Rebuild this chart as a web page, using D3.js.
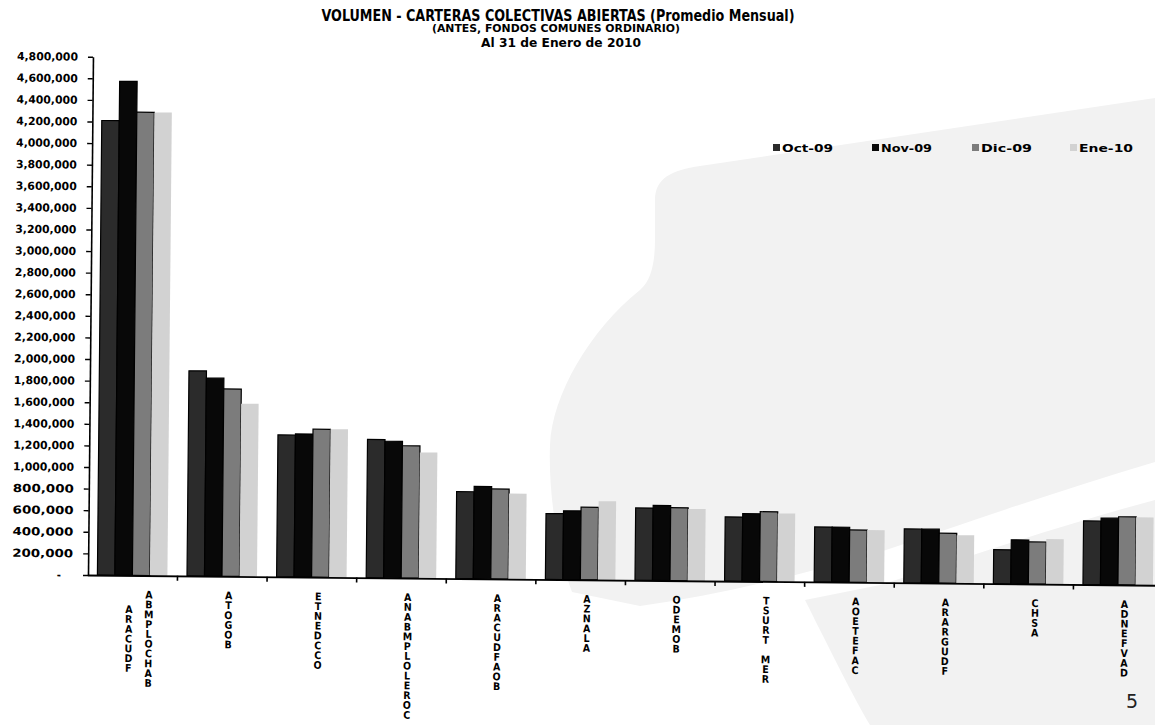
<!DOCTYPE html>
<html><head><meta charset="utf-8">
<script src="https://cdn.jsdelivr.net/npm/d3@7/dist/d3.min.js"></script>
<style>body{margin:0;background:#fff}svg{display:block}</style>
</head><body>
<svg id="c" width="1155" height="725"></svg>
<script>
// ---------- data ----------
const categories = ["ARACUDF\nABMPLOCHAB","ATOGOB","ETNEDCCO","ANABMPLOLEROC","ARACUDFAOB","AZNALA","ODEMOB","TSURT MER","AOETEFAC","ARARGUDF","CHSA","ADNEFVAD"];
const series = ["Oct-09","Nov-09","Dic-09","Ene-10"];
const oct09 = [4210000,1900000,1315000,1280000,805000,610000,670000,595000,510000,500000,315000,590000];
const nov09 = [4575000,1835000,1325000,1265000,855000,637000,695000,627000,510000,500000,408000,618000];
const dic09 = [4290000,1735000,1370000,1225000,833000,672000,675000,646000,485000,463000,391000,631000];
const ene10 = [4290000,1600000,1372000,1165000,792000,729000,665000,632000,486000,446000,418000,627000];
const yTickValues = [0,200000,400000,600000,800000,1000000,1200000,1400000,1600000,1800000,2000000,2200000,2400000,2600000,2800000,3000000,3200000,3400000,3600000,3800000,4000000,4200000,4400000,4600000,4800000];
const titleLines = ["VOLUMEN - CARTERAS COLECTIVAS ABIERTAS (Promedio Mensual)","(ANTES, FONDOS COMUNES ORDINARIO)","Al 31 de Enero de 2010"];
const pageNumber = "5";

const seriesValues = [oct09, nov09, dic09, ene10];
const fills = ["#2b2b2b","#080808","#7c7c7c","#d2d2d2"];
const strokes = ["#000","#000","#000","none"];

const svg = d3.select("#c");
const bold = "'DejaVu Sans Condensed','DejaVu Sans',sans-serif";
const narrow = "'Liberation Sans Narrow','DejaVu Sans Condensed',sans-serif";

// ---------- watermark ----------
svg.append("path")
  .attr("d","M655,200 C655,178 672,170 700,166 L1155,98 L1155,462 C1060,490 960,525 880,552 C800,575 720,595 640,606 L572,592 C560,560 548,500 550,445 C552,395 590,330 640,290 C652,280 655,260 655,240 Z")
  .attr("fill","#f2f2f2");
svg.append("path")
  .attr("d","M1155,500 C1060,525 960,560 880,585 L805,600 C830,650 855,700 870,725 L1155,725 Z")
  .attr("fill","#f2f2f2");

// ---------- titles ----------
const tl = svg.append("g").attr("font-family", narrow).attr("font-weight","bold").attr("fill","#000").attr("text-anchor","middle");
tl.append("text").attr("x",558).attr("y",21).attr("font-size",16).attr("textLength",473).attr("lengthAdjust","spacingAndGlyphs").text(titleLines[0]);
tl.append("text").attr("x",556).attr("y",32).attr("font-size",10).attr("textLength",248).attr("lengthAdjust","spacingAndGlyphs").text(titleLines[1]);
tl.append("text").attr("x",561).attr("y",47).attr("font-size",12.5).attr("textLength",160).attr("lengthAdjust","spacingAndGlyphs").text(titleLines[2]);

// ---------- legend ----------
const legX = [773, 872, 972, 1070];
const lg = svg.append("g").attr("font-family", bold).attr("font-weight","bold").attr("font-size",11);
series.forEach((s,i)=>{
  lg.append("rect").attr("x",legX[i]).attr("y",144).attr("width",7).attr("height",7).attr("fill",fills[i]);
  lg.append("text").attr("x",legX[i]+9).attr("y",152).attr("textLength",i===3?54:51).attr("lengthAdjust","spacingAndGlyphs").text(s);
});

// ---------- plot ----------
const X0 = 87.4, X1 = 1162.6, Y0 = 575, YT = 56.7;
const g = svg.append("g").attr("transform","rotate(0.55 88 575)");
const x = d3.scaleBand().domain(d3.range(categories.length)).range([X0, X1]).padding(0);
const xs = d3.scaleBand().domain(series).range([10, 80]).padding(0);
const y = d3.scaleLinear().domain([0, 4800000]).range([Y0, YT]);

// bars
const grp = g.selectAll("g.cat").data(categories).join("g").attr("class","cat")
  .attr("transform",(d,i)=>`translate(${x(i)},0)`);
grp.each(function(d,i){
  const sel = d3.select(this);
  series.forEach((s,k)=>{
    const v = seriesValues[k][i];
    sel.append("rect")
      .attr("x", xs(s)).attr("width", xs.bandwidth())
      .attr("y", y(v)).attr("height", Y0 - y(v))
      .attr("fill", fills[k]).attr("stroke", strokes[k]).attr("stroke-width", 1.2);
  });
});

// y axis
const ya = g.append("g").attr("transform","translate(88,0)")
  .call(d3.axisLeft(y).tickValues(yTickValues).tickSize(5).tickSizeOuter(0).tickPadding(10)
    .tickFormat(d => d===0 ? "-" : d3.format(",")(d)));
ya.select(".domain").attr("stroke","#000").attr("stroke-width",1.6);
ya.selectAll(".tick line").attr("stroke","#000").attr("stroke-width",1.4);
ya.selectAll(".tick text").attr("font-family",bold).attr("font-weight","bold").attr("font-size",11).attr("fill","#000")
  .attr("textLength", d => d===0 ? null : 61).attr("lengthAdjust","spacingAndGlyphs")
  .attr("dx", d => d===0 ? -12 : 0);

// x axis (category boundaries)
const xb = d3.scaleLinear().domain([0, categories.length]).range([X0, X1]);
const xa = g.append("g").attr("transform",`translate(0,${Y0})`)
  .call(d3.axisBottom(xb).tickValues(d3.range(1, categories.length)).tickSize(5).tickSizeOuter(0).tickFormat(""));
xa.select(".domain").attr("stroke","#000").attr("stroke-width",1.8);
xa.selectAll(".tick line").attr("stroke","#000").attr("stroke-width",1.6);

// category labels (stacked letters)
const step = 9.8;
categories.forEach((lab,i)=>{
  const cols = lab.split("\n");
  const maxLen = d3.max(cols, c=>c.length);
  cols.forEach((col,j)=>{
    const cx = x(i) + x.bandwidth()/2 + 7 + (j - (cols.length-1)/2)*20;
    const off = (maxLen - col.length)/2*step;
    const t = g.append("text").attr("font-family",bold).attr("font-weight","bold").attr("font-size",10.5)
      .attr("text-anchor","middle").attr("fill","#000");
    col.split("").forEach((ch,k)=>{
      t.append("tspan").attr("x",cx).attr("y",598 + off + k*step).text(ch === " " ? "\u00a0" : ch);
    });
  });
});

// page number
svg.append("text").attr("x",1132).attr("y",708).attr("text-anchor","middle").attr("font-family","'DejaVu Sans',sans-serif")
  .attr("font-size",19).attr("fill","#222").text(pageNumber);
</script>
</body></html>
